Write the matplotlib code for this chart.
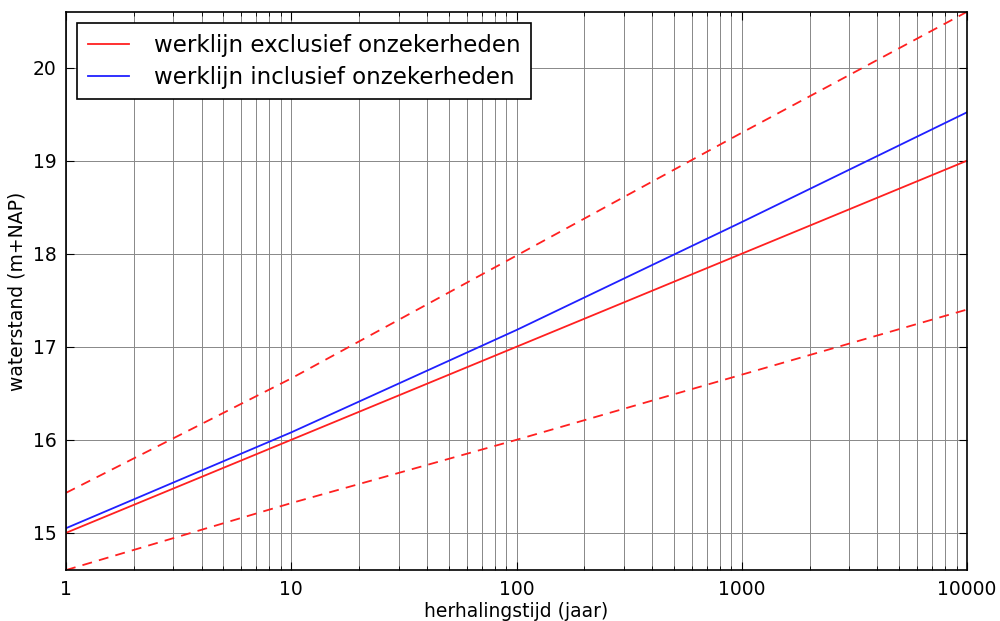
import matplotlib.pyplot as plt
import numpy as np

T = [1, 10, 100, 1000, 10000]
excl = [15.00, 16.00, 17.00, 18.00, 19.00]
incl = [15.05, 16.08, 17.18, 18.34, 19.52]
excl_upper = [15.43, 16.66, 17.98, 19.30, 20.60]
excl_lower = [14.60, 15.32, 16.00, 16.70, 17.40]

fig = plt.figure(figsize=(10, 6.21), dpi=100)
ax = fig.add_axes([0.066, 0.082, 0.901, 0.899])

ax.plot(T, excl, color='#ff2020', lw=1.3, label='werklijn exclusief onzekerheden')
ax.plot(T, incl, color='#2020ff', lw=1.3, label='werklijn inclusief onzekerheden')
ax.plot(T, excl_upper, color='#ff2020', lw=1.3, ls='--', dashes=(5.5, 4))
ax.plot(T, excl_lower, color='#ff2020', lw=1.3, ls='--', dashes=(5.5, 4))

ax.set_xscale('log')
ax.set_xlim(1, 10000)
ax.set_ylim(14.6, 20.6)
ax.set_xticks([1, 10, 100, 1000, 10000])
ax.set_xticklabels(['1', '10', '100', '1000', '10000'])
ax.set_yticks([15, 16, 17, 18, 19, 20])

ax.grid(True, which='major', color='#888888', lw=0.7)
ax.grid(True, which='minor', axis='x', color='#888888', lw=0.7)
ax.tick_params(which='both', direction='in', top=True, right=True, labelsize=13.5)
ax.tick_params(which='major', length=6, pad=7)
ax.tick_params(which='minor', length=3)
for s in ax.spines.values():
    s.set_linewidth(1.2)

ax.set_xlabel('herhalingstijd (jaar)', fontsize=13.5, labelpad=2)
ax.set_ylabel('waterstand (m+NAP)', fontsize=13.5)

leg = ax.legend(loc='upper left', fontsize=16.5, fancybox=False, framealpha=1,
                edgecolor='black', handlelength=1.8, handletextpad=1.1,
                borderpad=0.45, borderaxespad=0.5, labelspacing=0.4)
leg.get_frame().set_linewidth(1.2)

plt.savefig('out.png', dpi=100)
